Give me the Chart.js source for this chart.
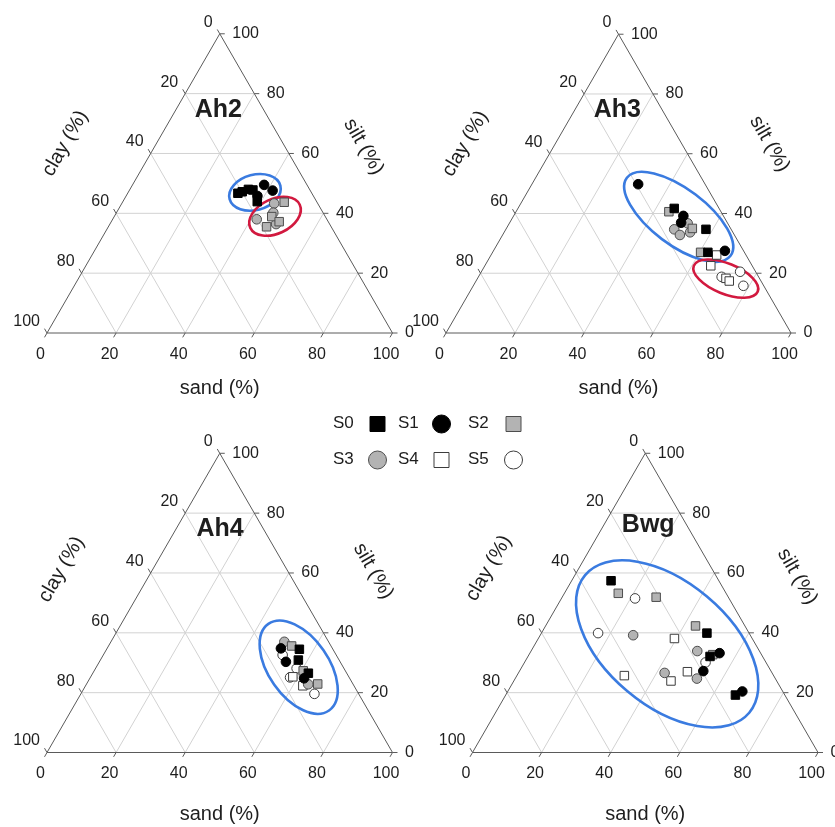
<!DOCTYPE html>
<html>
<head>
<meta charset="utf-8">
<title>Soil texture by horizon</title>
<script src="https://cdn.jsdelivr.net/npm/chart.js@4.4.1/dist/chart.umd.min.js"></script>
<style>
  html, body { margin: 0; padding: 0; background: #ffffff; }
  #wrap { position: relative; width: 835px; height: 827px; overflow: hidden; background: #ffffff; }
  #wrap canvas { position: absolute; left: 0; top: 0; }
</style>
</head>
<body>
<div id="wrap">
  <canvas id="p0" width="835" height="827"></canvas>
  <canvas id="p1" width="835" height="827"></canvas>
  <canvas id="p2" width="835" height="827"></canvas>
  <canvas id="p3" width="835" height="827"></canvas>
</div>
<script>
// ---------------------------------------------------------------
// Data: texture fractions per sample, as [sand, silt, clay] in %
// ---------------------------------------------------------------
const horizons = ['Ah2', 'Ah3', 'Ah4', 'Bwg'];
const seriesNames = ['S0', 'S1', 'S2', 'S3', 'S4', 'S5'];
const tickValues = [0, 20, 40, 60, 80, 100];
const gridValues = [20, 40, 60, 80];

const ah2_S0 = [[31.9, 46.7, 21.4], [32.9, 47.2, 19.9], [34.3, 48.0, 17.7], [35.7, 47.8, 16.5], [38.9, 43.9, 17.2]];
const ah2_S1 = [[38.1, 49.5, 12.4], [41.5, 47.6, 10.9], [38.0, 45.8, 16.2]];
const ah2_S2 = [[46.8, 43.7, 9.5], [45.6, 38.9, 15.5], [45.8, 35.5, 18.7], [48.6, 37.2, 14.2]];
const ah2_S3 = [[44.1, 43.3, 12.6], [45.4, 40.2, 14.4], [41.7, 38.0, 20.3], [48.1, 36.4, 15.5]];
const ah2_S4 = [];
const ah2_S5 = [];

const ah3_S0 = [[45.3, 41.7, 13.0], [58.0, 34.7, 7.3], [62.4, 27.0, 10.6]];
const ah3_S1 = [[30.8, 49.8, 19.4], [49.2, 39.2, 11.6], [49.7, 36.9, 13.4], [67.1, 27.5, 5.4]];
const ah3_S2 = [[44.3, 40.6, 15.1], [53.9, 35.0, 11.1], [60.3, 27.0, 12.7]];
const ah3_S3 = [[48.8, 34.7, 16.5], [51.4, 32.8, 15.8], [51.7, 36.7, 11.6], [53.9, 33.7, 12.4]];
const ah3_S4 = [[65.4, 26.1, 8.5], [65.5, 22.5, 12.0], [72.0, 18.3, 9.7], [73.4, 17.4, 9.2]];
const ah3_S5 = [[70.5, 18.8, 10.7], [75.0, 20.5, 4.5], [78.3, 15.8, 5.9]];

const ah4_S0 = [[55.8, 34.5, 9.7], [57.3, 30.9, 11.8], [62.4, 26.5, 11.1]];
const ah4_S1 = [[50.3, 34.8, 14.9], [54.0, 30.3, 15.7], [62.0, 24.8, 13.2]];
const ah4_S2 = [[53.0, 35.6, 11.4], [60.5, 27.3, 12.2], [66.9, 22.9, 10.2]];
const ah4_S3 = [[50.2, 37.0, 12.8], [64.2, 22.8, 13.0]];
const ah4_S4 = [[58.5, 25.3, 16.2], [62.9, 22.3, 14.8]];
const ah4_S5 = [[51.9, 32.6, 15.5], [58.2, 28.1, 13.7], [57.8, 25.1, 17.1], [67.6, 19.6, 12.8]];

const bwg_S0 = [[11.4, 57.4, 31.2], [47.9, 39.9, 12.2], [52.7, 32.1, 15.2], [66.5, 19.2, 14.3]];
const bwg_S1 = [[54.9, 33.2, 11.9], [53.2, 27.2, 19.6], [67.9, 20.4, 11.7]];
const bwg_S2 = [[15.6, 53.2, 31.2], [27.2, 51.9, 20.9], [43.4, 42.3, 14.3], [53.2, 32.7, 14.1]];
const bwg_S3 = [[26.9, 39.2, 33.9], [48.1, 33.9, 18.0], [42.3, 26.6, 31.1], [52.6, 24.7, 22.7]];
const bwg_S4 = [[39.4, 38.1, 22.5], [48.7, 27.0, 24.3], [31.1, 25.7, 43.2], [45.5, 23.9, 30.6]];
const bwg_S5 = [[21.3, 51.5, 27.2], [16.4, 39.9, 43.7], [52.4, 30.1, 17.5]];

// Group outlines: centre [sand, silt], semi-axes in % of the triangle side, tilt in degrees
const ah2_groups = [
  { c: [36.7, 47.0], a: 7.6, b: 5.1, tilt: -15, color: 'blue' },
  { c: [46.5, 39.0], a: 7.9, b: 5.0, tilt: -25, color: 'red' }
];
const ah3_groups = [
  { c: [48.0, 38.9], a: 18.8, b: 8.1, tilt: 37, color: 'blue' },
  { c: [72.0, 18.2], a: 10.0, b: 4.4, tilt: 22, color: 'red' }
];
const ah4_groups = [
  { c: [58.6, 28.5], a: 15.3, b: 8.7, tilt: 55, color: 'blue' }
];
const bwg_groups = [
  { c: [38.2, 36.3], a: 31.0, b: 17.9, tilt: 40, color: 'blue' }
];

const horizonSeries = [
  [ah2_S0, ah2_S1, ah2_S2, ah2_S3, ah2_S4, ah2_S5],
  [ah3_S0, ah3_S1, ah3_S2, ah3_S3, ah3_S4, ah3_S5],
  [ah4_S0, ah4_S1, ah4_S2, ah4_S3, ah4_S4, ah4_S5],
  [bwg_S0, bwg_S1, bwg_S2, bwg_S3, bwg_S4, bwg_S5]
];
const horizonGroups = [ah2_groups, ah3_groups, ah4_groups, bwg_groups];

// ---------------------------------------------------------------
// Styling and layout
// ---------------------------------------------------------------
const FONT = "'Liberation Sans', Arial, Helvetica, sans-serif";
const TEXT = '#1e1e1e';
const GRID = '#d2d2d2';
const FRAME = '#5a5a5a';
const GROUP_COLORS = { blue: '#3a7be0', red: '#d2193f' };

const markerStyles = [
  { shape: 'rect',   fill: '#000000', edge: '#000000' },
  { shape: 'circle', fill: '#000000', edge: '#000000' },
  { shape: 'rect',   fill: '#b3b3b3', edge: '#4d4d4d' },
  { shape: 'circle', fill: '#b3b3b3', edge: '#4d4d4d' },
  { shape: 'rect',   fill: '#ffffff', edge: '#3c3c3c' },
  { shape: 'circle', fill: '#ffffff', edge: '#3c3c3c' }
];

// Triangle placement on the page and title offsets for each horizon
const panels = [
  { left: 47,    width: 345.5, bottom: 333,   name: [-1.5, 83], clay: [79, 0.5],  silt: [68, 3],   sand: 55 },
  { left: 446,   width: 345,   bottom: 333,   name: [-1.2, 83], clay: [78, 1],    silt: [76, 2],   sand: 55 },
  { left: 47,    width: 345.5, bottom: 752.5, name: [0.3, 83],  clay: [79, -7],   silt: [74, -6],  sand: 62 },
  { left: 472.5, width: 345.5, bottom: 752.5, name: [3, 78.5],  clay: [78, -5],   silt: [70, -10], sand: 62 }
];

const legendLayout = {
  rows: [423, 459],
  textX: [333, 398, 468],
  markX: [377.5, 441.5, 513.5]
};

// sand/silt -> position in the chart's (x, y) value space
const ternary = (sand, silt) => ({ x: sand + silt / 2, y: silt });

function gridSegments() {
  const segs = [];
  gridValues.forEach(k => {
    segs.push([[0, k], [100 - k, k]]);       // constant silt
    segs.push([[k, 0], [k, 100 - k]]);       // constant sand
    segs.push([[0, 100 - k], [100 - k, 0]]); // constant clay
  });
  return segs;
}
const frameCorners = [[0, 0], [100, 0], [0, 100], [0, 0]];

// ---------------------------------------------------------------
// Plugin: group outlines, axis ticks/labels, titles, legend
// ---------------------------------------------------------------
function pixel(chart, sand, silt) {
  const p = ternary(sand, silt);
  return { x: chart.scales.x.getPixelForValue(p.x), y: chart.scales.y.getPixelForValue(p.y) };
}

function drawMarker(ctx, style, x, y, size) {
  ctx.save();
  ctx.fillStyle = style.fill;
  ctx.strokeStyle = style.edge;
  ctx.lineWidth = 1;
  ctx.beginPath();
  if (style.shape === 'rect') {
    ctx.rect(x - size / 2, y - size / 2, size, size);
  } else {
    ctx.arc(x, y, size / 2, 0, Math.PI * 2);
  }
  ctx.fill();
  ctx.stroke();
  ctx.restore();
}

const ternaryDecor = {
  id: 'ternaryDecor',
  afterDatasetDraw(chart, args, opts) {
    const ds = chart.data.datasets[args.index];
    if (ds.role !== 'frame') return;
    const ctx = chart.ctx;
    const unit = (chart.scales.x.getPixelForValue(100) - chart.scales.x.getPixelForValue(0)) / 100;
    ctx.save();
    ctx.lineWidth = 2.6;
    opts.groups.forEach(g => {
      const c = pixel(chart, g.c[0], g.c[1]);
      ctx.strokeStyle = GROUP_COLORS[g.color];
      ctx.beginPath();
      ctx.ellipse(c.x, c.y, g.a * unit, g.b * unit, g.tilt * Math.PI / 180, 0, Math.PI * 2);
      ctx.stroke();
    });
    ctx.restore();
  },
  afterDraw(chart, args, opts) {
    const ctx = chart.ctx;
    const L = opts.layout;
    const c60 = Math.cos(Math.PI / 3), s60 = Math.sin(Math.PI / 3);
    ctx.save();

    // tick marks
    ctx.strokeStyle = FRAME;
    ctx.lineWidth = 1;
    ctx.beginPath();
    tickValues.forEach(k => {
      const b = pixel(chart, k, 0);            // sand axis
      ctx.moveTo(b.x, b.y); ctx.lineTo(b.x - 5 * c60, b.y + 5 * s60);
      const l = pixel(chart, 0, 100 - k);      // clay axis
      ctx.moveTo(l.x, l.y); ctx.lineTo(l.x - 5 * c60, l.y - 5 * s60);
      const r = pixel(chart, 100 - k, k);      // silt axis
      ctx.moveTo(r.x, r.y); ctx.lineTo(r.x + 5, r.y);
    });
    ctx.stroke();

    // tick labels
    ctx.fillStyle = TEXT;
    ctx.font = '16px ' + FONT;
    ctx.textBaseline = 'middle';
    tickValues.forEach(k => {
      const b = pixel(chart, k, 0);
      ctx.textAlign = 'center';
      ctx.fillText(String(k), b.x - 6.5, b.y + 21.5);
      const l = pixel(chart, 0, 100 - k);
      ctx.textAlign = 'right';
      ctx.fillText(String(k), l.x - 7, l.y - 11.5);
      const r = pixel(chart, 100 - k, k);
      ctx.textAlign = 'left';
      ctx.fillText(String(k), r.x + 12.5, r.y);
    });

    // axis titles
    ctx.font = '20px ' + FONT;
    ctx.textAlign = 'center';
    const bl = pixel(chart, 0, 0), br = pixel(chart, 100, 0), top = pixel(chart, 0, 100);
    ctx.fillText('sand (%)', (bl.x + br.x) / 2, bl.y + L.sand);

    const lm = { x: (bl.x + top.x) / 2, y: (bl.y + top.y) / 2 };
    const lx = lm.x - L.clay[0] * s60 + L.clay[1] * c60;
    const ly = lm.y - L.clay[0] * c60 - L.clay[1] * s60;
    ctx.save();
    ctx.translate(lx, ly);
    ctx.rotate(-Math.PI / 3);
    ctx.fillText('clay (%)', 0, 0);
    ctx.restore();

    const rm = { x: (br.x + top.x) / 2, y: (br.y + top.y) / 2 };
    const rx = rm.x + L.silt[0] * s60 - L.silt[1] * c60;
    const ry = rm.y - L.silt[0] * c60 - L.silt[1] * s60;
    ctx.save();
    ctx.translate(rx, ry);
    ctx.rotate(Math.PI / 3);
    ctx.fillText('silt (%)', 0, 0);
    ctx.restore();

    // horizon name
    ctx.font = 'bold 25px ' + FONT;
    ctx.textBaseline = 'alphabetic';
    ctx.fillText(opts.title, top.x + L.name[0], top.y + L.name[1]);

    // shared legend
    if (opts.legend) {
      ctx.font = '17px ' + FONT;
      ctx.textAlign = 'left';
      ctx.textBaseline = 'middle';
      seriesNames.forEach((name, i) => {
        const row = Math.floor(i / 3), col = i % 3;
        const y = legendLayout.rows[row];
        ctx.fillStyle = TEXT;
        ctx.fillText(name, legendLayout.textX[col], y);
        const st = markerStyles[i];
        drawMarker(ctx, st, legendLayout.markX[col], y + 1, st.shape === 'rect' ? 15 : 18);
      });
    }
    ctx.restore();
  }
};

// ---------------------------------------------------------------
// Build one ternary chart per horizon
// ---------------------------------------------------------------
function buildPanel(i) {
  const P = panels[i];
  const height = P.width * Math.sqrt(3) / 2;
  const datasets = [];

  gridSegments().forEach(seg => {
    datasets.push({
      role: 'grid',
      data: seg.map(p => ternary(p[0], p[1])),
      showLine: true, pointRadius: 0, borderColor: GRID, borderWidth: 1,
      order: 30, clip: false
    });
  });
  datasets.push({
    role: 'frame',
    data: frameCorners.map(p => ternary(p[0], p[1])),
    showLine: true, pointRadius: 0, borderColor: FRAME, borderWidth: 1,
    order: 20, clip: false
  });
  seriesNames.forEach((name, s) => {
    const st = markerStyles[s];
    datasets.push({
      label: name,
      data: horizonSeries[i][s].map(r => ternary(r[0], r[1])),
      pointStyle: st.shape,
      pointRadius: st.shape === 'rect' ? 6 : 4.8,
      backgroundColor: st.fill,
      borderColor: st.edge,
      borderWidth: 1,
      order: s,
      clip: false
    });
  });

  return new Chart(document.getElementById('p' + i), {
    type: 'scatter',
    data: { datasets },
    options: {
      responsive: false,
      animation: false,
      events: [],
      layout: {
        padding: {
          left: P.left,
          right: 835 - P.left - P.width,
          top: P.bottom - height,
          bottom: 827 - P.bottom
        }
      },
      scales: {
        x: { type: 'linear', min: 0, max: 100, display: false },
        y: { type: 'linear', min: 0, max: 100, display: false }
      },
      plugins: {
        legend: { display: false },
        tooltip: { enabled: false },
        ternaryDecor: {
          layout: P,
          title: horizons[i],
          groups: horizonGroups[i],
          legend: i === 3
        }
      }
    },
    plugins: [ternaryDecor]
  });
}

horizons.forEach((h, i) => buildPanel(i));
</script>
</body>
</html>
